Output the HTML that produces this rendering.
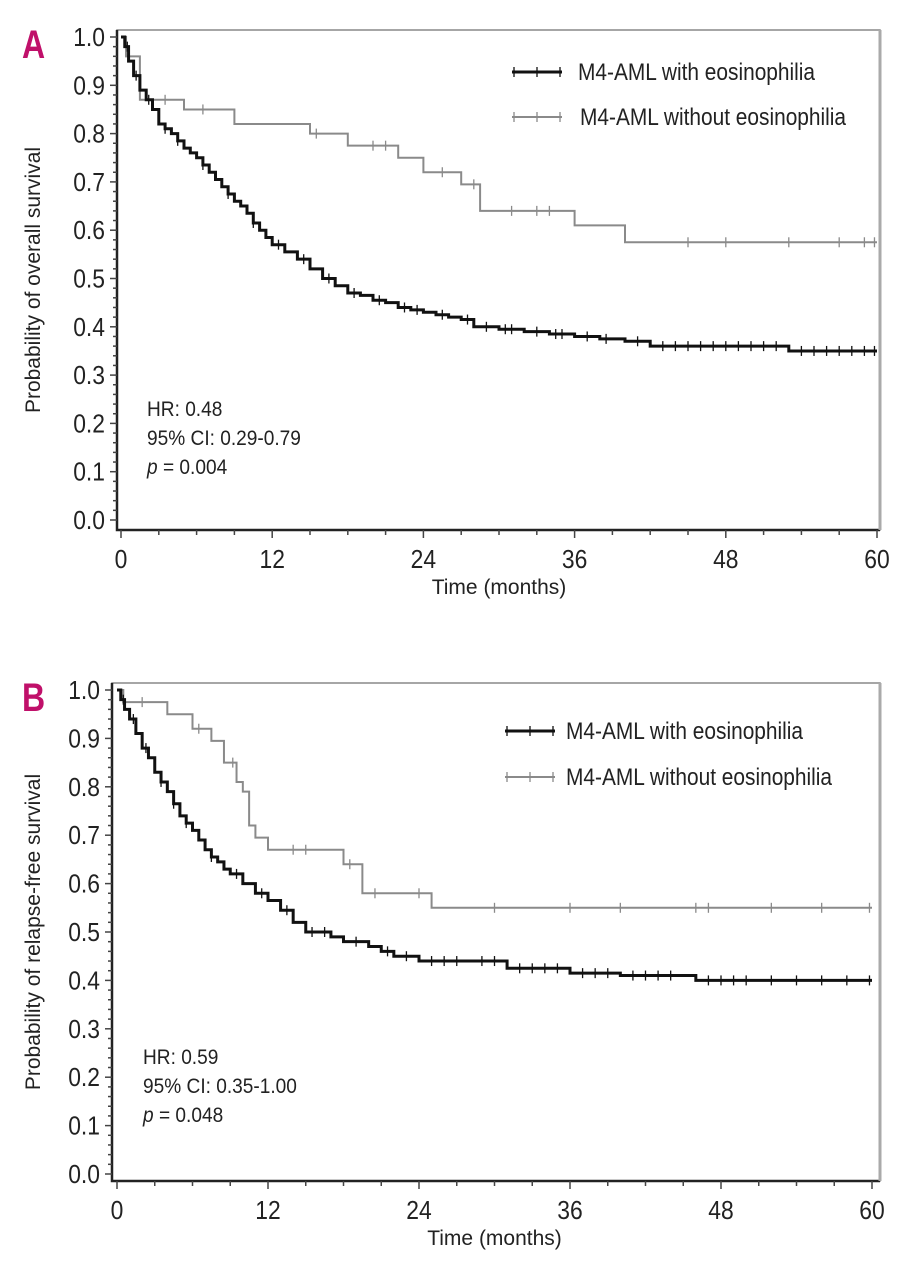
<!DOCTYPE html>
<html><head><meta charset="utf-8"><style>
html,body{margin:0;padding:0;background:#fff;}
svg text{font-family:"Liberation Sans",sans-serif;}
</style></head><body>
<svg id="fig" width="914" height="1280" viewBox="0 0 914 1280" xmlns="http://www.w3.org/2000/svg"></svg>
<script>
// Panel A data
const aBlackT = [0,0.3,0.6,1,1.5,2,2.5,3,3.5,4,4.5,5,5.5,6,6.5,7,7.5,8,8.5,9,9.5,10,10.5,11,11.5,12,13,14,15,16,17,18,19,20,21,22,23,24,25,26,27,28,30,32,34,36,38,40,42,45,50,53,60];
const aBlackS = [1.0,0.98,0.95,0.92,0.89,0.87,0.85,0.82,0.81,0.80,0.785,0.77,0.76,0.75,0.735,0.72,0.705,0.69,0.675,0.66,0.65,0.635,0.615,0.60,0.585,0.57,0.555,0.54,0.52,0.50,0.485,0.47,0.465,0.455,0.45,0.44,0.435,0.43,0.425,0.42,0.415,0.40,0.395,0.39,0.385,0.38,0.375,0.37,0.36,0.36,0.36,0.35,0.35];
const aBlackCens = [0.5,1.2,2.2,3.5,4.5,6.5,8.5,10.5,12.5,14.5,16.5,18.5,20.5,22.5,23.5,25.5,27.5,29,30.5,31,33,34.5,35,37,38.5,41,43,44,45,46,47,48,49,50,51,52,54,55,56,57,58,59,59.8];
const aGrayT = [0,0.4,1.5,5,9,15,18,22,24,27,28.5,36,40,60];
const aGrayS = [1.0,0.96,0.87,0.85,0.82,0.80,0.775,0.75,0.72,0.695,0.64,0.61,0.575,0.575];
const aGrayCens = [3.5,6.5,15.5,20,21,25.5,28,31,33,34,45,48,53,57,59,59.8];
// Panel B data
const bBlackT = [0,0.3,0.6,1,1.5,2,2.5,3,3.5,4,4.5,5,5.5,6,6.5,7,7.5,8,8.5,9,10,11,12,13,14,15,17,18,20,21,22,24,28,31,36,40,46,60];
const bBlackS = [1.0,0.98,0.96,0.94,0.91,0.88,0.86,0.83,0.81,0.79,0.765,0.74,0.725,0.71,0.69,0.67,0.655,0.645,0.63,0.62,0.60,0.58,0.565,0.545,0.52,0.50,0.49,0.48,0.47,0.46,0.45,0.44,0.44,0.425,0.415,0.41,0.40,0.40];
const bBlackCens = [0.5,1.3,2.3,3.5,4.5,5.5,7.5,9.5,11.5,13.5,15.5,16.5,19,21.5,23,25,26,27,29,30,32,33,34,35,37,38,39,41,42,43,44,47,48,49,50,52,54,56,58,59.8];
const bGrayT = [0,0.5,4,6,7.5,8.5,9.5,10,10.5,11,12,18,19.5,25,60];
const bGrayS = [1.0,0.975,0.95,0.92,0.895,0.85,0.81,0.79,0.72,0.695,0.67,0.64,0.58,0.55,0.55];
const bGrayCens = [2,6.5,9.2,14,15,18.5,20.5,24,30,36,40,46,47,52,56,59.8];
const yTicks = ["0.0","0.1","0.2","0.3","0.4","0.5","0.6","0.7","0.8","0.9","1.0"];
const xTicks = [0,12,24,36,48,60];

const NS="http://www.w3.org/2000/svg";
const svg=document.getElementById('fig');
function mk(tag,attrs,parent){const e=document.createElementNS(NS,tag);for(const k in attrs)e.setAttribute(k,attrs[k]);(parent||svg).appendChild(e);return e;}
function txt(parent,x,y,attrs,sx,rot){const a=Object.assign({x:0,y:0,transform:`translate(${x},${y})${rot?' rotate(-90)':''} scale(${sx},1)`},attrs);return mk('text',a,parent);}

function panel(p){
  const g=mk('g',{});
  
  
  const X=t=>p.x0+(p.x60-p.x0)*t/60;
  const Y=s=>p.y0+(p.y1-p.y0)*s;
  const fr=mk('rect',{x:p.left,y:p.top,width:p.right-p.left,height:p.bottom-p.top,fill:'none',stroke:'#888','stroke-width':1.5},g);
  
  
  const ax=mk('path',{d:`M${p.left},${p.top} V${p.bottom} H${p.right}`,fill:'none',stroke:'#222','stroke-width':2.5},g);
  
  
  mk('line',{x1:p.right,y1:p.top,x2:p.right,y2:p.bottom,stroke:'#aaa','stroke-width':3},g);
  for(let i=0;i<=50;i++){const s=i/50;const major=i%5===0;
    mk('line',{x1:p.left-(major?7:4),x2:p.left,y1:Y(s),y2:Y(s),stroke:'#444','stroke-width':1.5},g);}
  yTicks.forEach((lab,i)=>{const t=txt(g,p.left-12,Y(i/10)+9,{'text-anchor':'end','font-size':26,fill:'#222'},0.88);t.textContent=lab;
    
    });
  for(let m=0;m<=60;m+=3){const major=m%12===0;
    mk('line',{x1:X(m),x2:X(m),y1:p.bottom,y2:p.bottom+(major?8:5),stroke:'#444','stroke-width':1.5},g);}
  xTicks.forEach(v=>{const t=txt(g,X(v),p.bottom+38,{'text-anchor':'middle','font-size':26,fill:'#222'},0.88);t.textContent=v;
    
    });
  const xt=txt(g,(p.x0+p.x60)/2,p.bottom+64,{'text-anchor':'middle','font-size':21,fill:'#222'},1);xt.textContent='Time (months)';
  
  
  const cy=(p.top+p.bottom)/2;
  const yt=txt(g,40,cy,{'text-anchor':'middle','font-size':21,fill:'#222'},1,true);yt.textContent=p.ytitle;
  
  
  const pl=txt(g,22,p.top+28,{'font-size':40,'font-weight':'bold',fill:'#c0106a'},0.8);pl.textContent=p.id;
  
  
  function curve(T,S,C,color,w,name){
    let d=`M${X(T[0])},${Y(S[0])}`;
    for(let i=1;i<T.length;i++){d+=` H${X(T[i])} V${Y(S[i])}`;}
    const path=mk('path',{d,fill:'none',stroke:color,'stroke-width':w},g);
    
    
    C.forEach(c=>{let s=S[0];for(let i=0;i<T.length;i++){if(T[i]<=c)s=S[i];}
      const m=mk('line',{x1:X(c),x2:X(c),y1:Y(s)-5,y2:Y(s)+5,stroke:color,'stroke-width':1.3},g);
      
      });
  }
  curve(p.gT,p.gS,p.gC,'#8a8a8a',2,'curve-without-eosinophilia');
  curve(p.bT,p.bS,p.bC,'#111',3,'curve-with-eosinophilia');
  [[p.leg1,'#111',3,'M4-AML with eosinophilia','legend-with-eosinophilia'],[p.leg2,'#8a8a8a',2,'M4-AML without eosinophilia','legend-without-eosinophilia']].forEach(L=>{
    const lg=mk('g',{},g);
    
    
    const [lx,ly,tx]=L[0];
    mk('line',{x1:lx,x2:lx+50,y1:ly,y2:ly,stroke:L[1],'stroke-width':L[2]},lg);
    [lx+2,lx+25,lx+48].forEach(xx=>mk('line',{x1:xx,x2:xx,y1:ly-5,y2:ly+5,stroke:L[1],'stroke-width':1.3},lg));
    const t=txt(lg,tx,ly+8,{'font-size':24,fill:'#222'},0.87);t.textContent=L[3];
  });
  p.stats.forEach((s,i)=>{const t=txt(g,p.x0+26,p.statY+i*29,{'font-size':21,fill:'#222'},0.91);
    
    
    if(s[0]==='p'){const it=mk('tspan',{'font-style':'italic'},t);it.textContent='p';const r=mk('tspan',{},t);r.textContent=s.slice(1);}
    else t.textContent=s;});
}

panel({id:'A',left:117,top:30,right:880,bottom:530,x0:121,x60:877,y0:520,y1:37,
  ytitle:'Probability of overall survival',bT:aBlackT,bS:aBlackS,bC:aBlackCens,gT:aGrayT,gS:aGrayS,gC:aGrayCens,
  leg1:[512,72,578],leg2:[512,117,580],stats:['HR: 0.48','95% CI: 0.29-0.79','p = 0.004'],statY:416});
panel({id:'B',left:112,top:683,right:880,bottom:1181,x0:117,x60:872,y0:1174,y1:690,
  ytitle:'Probability of relapse-free survival',bT:bBlackT,bS:bBlackS,bC:bBlackCens,gT:bGrayT,gS:bGrayS,gC:bGrayCens,
  leg1:[505,731,566],leg2:[505,777,566],stats:['HR: 0.59','95% CI: 0.35-1.00','p = 0.048'],statY:1064});
</script>
</body></html>
